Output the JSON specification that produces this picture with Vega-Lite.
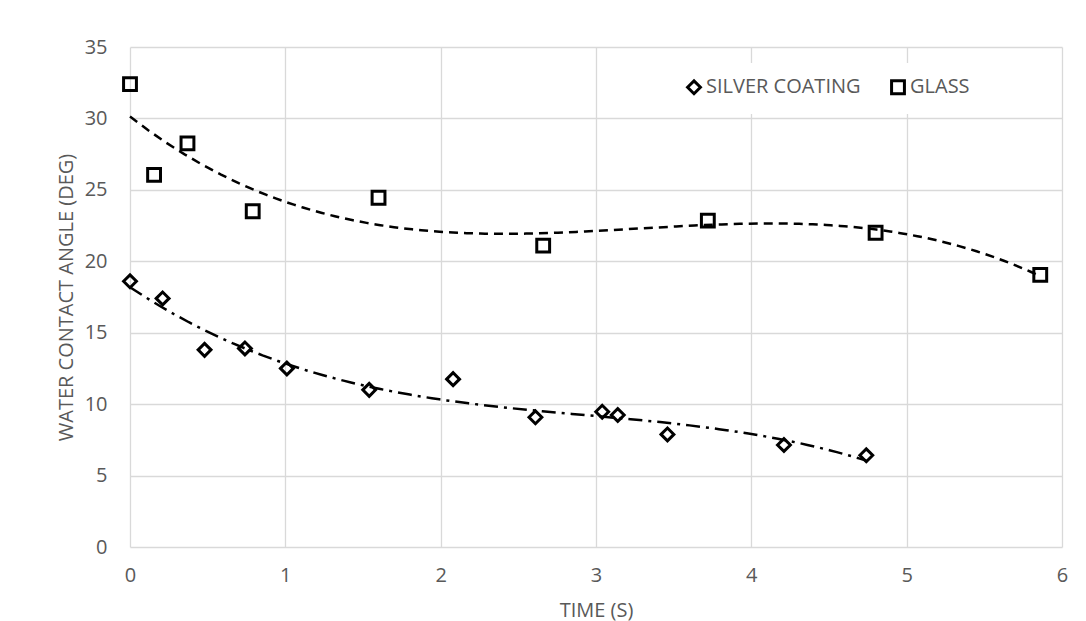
{
  "$schema": "https://vega.github.io/schema/vega-lite/v6.json",
  "width": 932,
  "height": 500,
  "autosize": {"type": "none"},
  "padding": {"left": 130, "top": 47, "right": 24, "bottom": 74},
  "background": "white",
  "config": {
    "view": {"stroke": null},
    "font": "Open Sans",
    "axis": {
      "gridColor": "#d9d9d9",
      "gridWidth": 1.3,
      "domain": false,
      "ticks": false,
      "labelFlush": false,
      "labelColor": "#595959",
      "titleColor": "#595959",
      "labelFontSize": 20,
      "titleFontSize": 20,
      "titleFontWeight": "normal",
      "labelFont": "Open Sans",
      "titleFont": "Open Sans"
    },
    "legend": {
      "labelFont": "Open Sans",
      "labelFontSize": 20,
      "labelColor": "#595959"
    }
  },
  "data": {
    "values": [
      {"series": "GLASS", "time": 0.0, "angle": 32.4},
      {"series": "GLASS", "time": 0.155, "angle": 26.05},
      {"series": "GLASS", "time": 0.37, "angle": 28.25},
      {"series": "GLASS", "time": 0.79, "angle": 23.5},
      {"series": "GLASS", "time": 1.6, "angle": 24.45},
      {"series": "GLASS", "time": 2.66, "angle": 21.1},
      {"series": "GLASS", "time": 3.72, "angle": 22.85},
      {"series": "GLASS", "time": 4.8, "angle": 22.0},
      {"series": "GLASS", "time": 5.86, "angle": 19.05},
      {"series": "SILVER COATING", "time": 0.0, "angle": 18.6},
      {"series": "SILVER COATING", "time": 0.21, "angle": 17.4},
      {"series": "SILVER COATING", "time": 0.48, "angle": 13.8},
      {"series": "SILVER COATING", "time": 0.74, "angle": 13.9},
      {"series": "SILVER COATING", "time": 1.01, "angle": 12.5},
      {"series": "SILVER COATING", "time": 1.54, "angle": 11.0},
      {"series": "SILVER COATING", "time": 2.08, "angle": 11.75},
      {"series": "SILVER COATING", "time": 2.61, "angle": 9.08},
      {"series": "SILVER COATING", "time": 3.04, "angle": 9.47},
      {"series": "SILVER COATING", "time": 3.14, "angle": 9.24},
      {"series": "SILVER COATING", "time": 3.46, "angle": 7.88},
      {"series": "SILVER COATING", "time": 4.21, "angle": 7.14},
      {"series": "SILVER COATING", "time": 4.74, "angle": 6.42}
    ]
  },
  "encoding": {
    "x": {
      "field": "time",
      "type": "quantitative",
      "scale": {"domain": [0, 6], "nice": false, "zero": false},
      "axis": {"title": "TIME (S)", "values": [0, 1, 2, 3, 4, 5, 6], "labelPadding": 18, "titlePadding": 15, "format": "d"}
    },
    "y": {
      "field": "angle",
      "type": "quantitative",
      "scale": {"domain": [0, 35], "nice": false},
      "axis": {"title": "WATER CONTACT ANGLE (DEG)", "values": [0, 5, 10, 15, 20, 25, 30, 35], "labelPadding": 23, "titlePadding": 8}
    }
  },
  "layer": [
    {
      "mark": {"type": "point", "filled": false, "strokeWidth": 3, "size": 165, "opacity": 1, "color": "black"},
      "encoding": {
        "shape": {
          "field": "series",
          "type": "nominal",
          "scale": {"domain": ["SILVER COATING", "GLASS"], "range": ["diamond", "square"]},
          "legend": {
            "title": null,
            "orient": "none",
            "legendX": 540,
            "legendY": 16,
            "direction": "horizontal",
            "fillColor": "white",
            "padding": 14,
            "columnPadding": 24,
            "labelOffset": 2,
            "symbolSize": 165,
            "symbolStrokeWidth": 3,
            "symbolStrokeColor": "black",
            "symbolFillColor": "white"
          }
        }
      }
    },
    {
      "transform": [
        {"filter": "datum.series === 'GLASS'"},
        {"regression": "angle", "on": "time", "method": "poly", "order": 3}
      ],
      "mark": {"type": "line", "color": "black", "strokeWidth": 2.5, "strokeDash": [9, 6]}
    },
    {
      "transform": [
        {"filter": "datum.series === 'SILVER COATING'"},
        {"regression": "angle", "on": "time", "method": "poly", "order": 3}
      ],
      "mark": {"type": "line", "color": "black", "strokeWidth": 2.5, "strokeDash": [14, 6, 3, 6]}
    }
  ]
}
